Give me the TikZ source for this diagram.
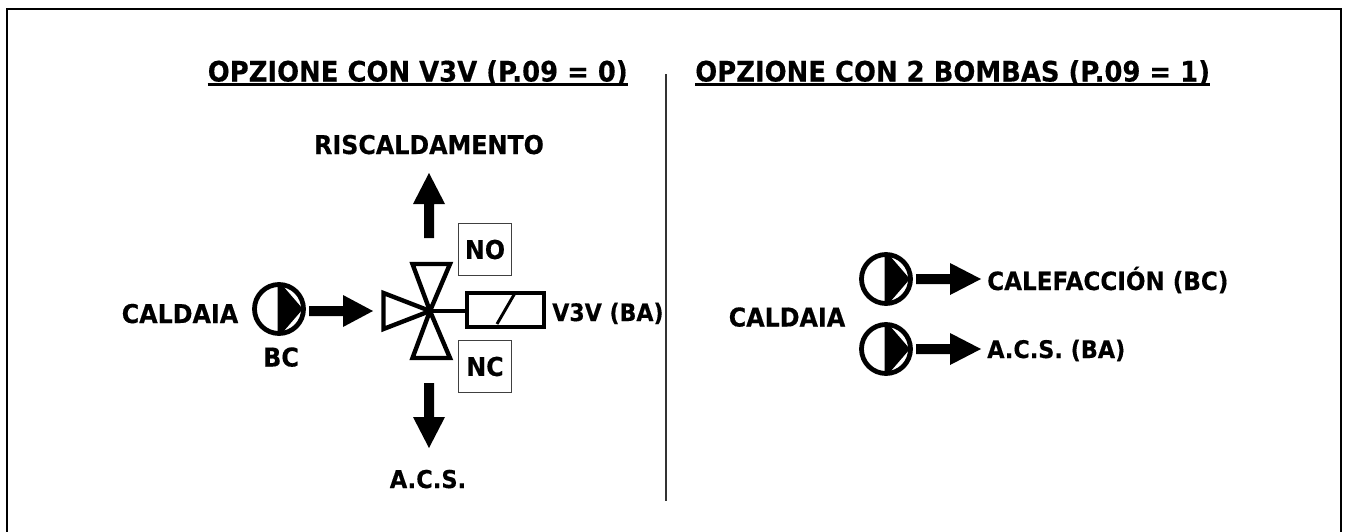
\documentclass[tikz,border=0pt]{standalone}
\usepackage{fontspec}
\setmainfont[FakeStretch=0.92,FakeBold=0.4]{DejaVu Sans Bold}
\tikzset{
 px/.style={x=0.75pt,y=-0.75pt},
 lbl/.style={inner sep=0pt,font=\fontsize{19.4}{22}\selectfont,text=black},
 lblsm/.style={inner sep=0pt,font=\fontsize{18.4}{22}\selectfont,text=black},
 ttl/.style={inner sep=0pt,font=\fontsize{21.1}{24}\selectfont,text=black},
 tagbox/.style={draw=black!75,line width=0.75pt,minimum width=40pt,minimum height=39.5pt,inner sep=0pt,font=\fontsize{19.4}{22}\selectfont},
 valvetri/.style={draw=black,line width=3.3pt,line join=miter,miter limit=3,fill=white},
 uline/.style={draw=black,line width=2.2pt},
}
\newcommand{\pumpsym}[1]{%
 \begin{scope}[shift={(#1)}]
  \draw[black,line width=3.6pt,fill=white] (0,0) circle (24.5);
  \fill[black] (-1.5,-24) -- (4,-23) -- (23,-1) -- (23,1) -- (4,23) -- (-1.5,24) -- cycle;
 \end{scope}}
\newcommand{\fatarrow}[3]{%
 \begin{scope}[shift={(#1)},rotate=#2]
  \fill[black] (0,-5) -- (34,-5) -- (34,-16) -- (#3,0) -- (34,16) -- (34,5) -- (0,5) -- cycle;
 \end{scope}}
\begin{document}
\begin{tikzpicture}[px]
\useasboundingbox (0,0) rectangle (1347,532);
\fill[white] (0,0) rectangle (1347,532);
% frame, open at the bottom
\draw[black,line width=1.5pt] (7,532) -- (7,9) -- (1340.5,9) -- (1340.5,532);
% divider
\coordinate (divtop) at (666,74);
\coordinate (divbot) at (666,501);
\draw[black!80,line width=1pt] (divtop) -- (divbot);
% titles
\node[ttl,anchor=base west] (t1) at (207.5,81.5) {OPZIONE CON V3V (P.09 = 0)};
\draw[uline] ([yshift=-2.3pt]t1.base west) -- ([yshift=-2.3pt]t1.base east);
\node[ttl,anchor=base west] (t2) at (695,81.5) {OPZIONE CON 2 BOMBAS (P.09 = 1)};
\draw[uline] ([yshift=-2.3pt]t2.base west) -- ([yshift=-2.3pt]t2.base east);
% left
\node[lbl,anchor=base] (risc) at (429,154) {RISCALDAMENTO};
\node[lblsm,anchor=base] (acs) at (428,488) {A.C.S.};
\node[lbl,anchor=base] (cal1) at (180,323) {CALDAIA};
\node[lbl,anchor=base] (bc) at (281,366.5) {BC};
\node[lblsm,anchor=base west,font=\fontsize{18}{22}\selectfont] (v3v) at (552,321) {V3V (BA)};
\pumpsym{279,309}
\fatarrow{309,311}{0}{64}
\fatarrow{429,238}{90}{65}
\fatarrow{429,383}{-90}{65}
% valve
\coordinate (vc) at (430,311);
\draw[valvetri] (vc) -- (412.5,264) -- (450,264) -- cycle;
\draw[valvetri] (vc) -- (412.5,358) -- (450,358) -- cycle;
\draw[valvetri] (vc) -- (383.5,293) -- (383.5,329) -- cycle;
% solenoid
\node[draw=black,line width=3pt,minimum width=57.5pt,minimum height=25.5pt,inner sep=0pt,anchor=west] (sol) at (465,309.5) {};
\draw[black,line width=2.6pt] (vc) -- (vc -| sol.west);
\coordinate (sa) at (515,293);
\coordinate (sb) at (497,324);
\draw[black,line width=2.2pt] (sa) -- (sb);
\node[tagbox] (no) at (485,249.5) {NO};
\node[tagbox] (nc) at (485,366.5) {NC};
% right
\pumpsym{886,279}
\pumpsym{886,349}
\fatarrow{916,279}{0}{65}
\fatarrow{916,349}{0}{65}
\node[lbl,anchor=base] (cal2) at (787,326.5) {CALDAIA};
\node[lbl,anchor=base west,font=\fontsize{18.8}{22}\selectfont] (cale) at (987,290) {CALEFACCIÓN (BC)};
\node[lbl,anchor=base west,font=\fontsize{18.2}{22}\selectfont] (acs2) at (987,358) {A.C.S. (BA)};
\end{tikzpicture}
\end{document}
